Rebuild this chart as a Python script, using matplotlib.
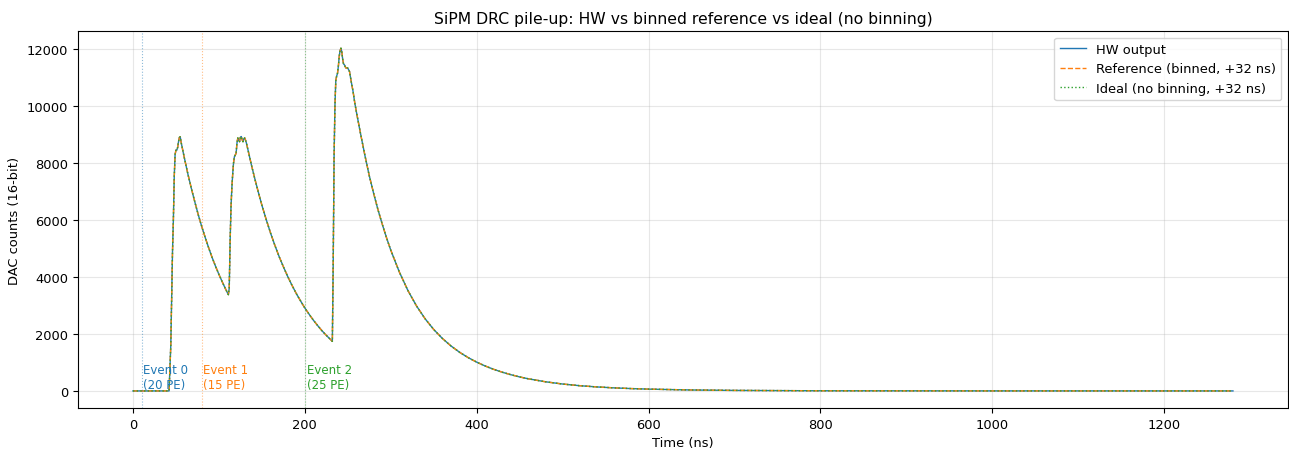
import numpy as np
import matplotlib
matplotlib.use("Agg")
import matplotlib.pyplot as plt

# Werte (Zeit in ns, DAC counts)
time_ns = [0, 20, 42, 43, 44, 45, 46, 47, 48, 49, 50, 51, 52, 53, 54, 55,
           56, 60, 64, 68, 72, 76, 80, 84, 88, 92, 96, 100, 104, 108, 111,
           112, 113, 114, 115, 116, 117, 118, 119, 120, 121, 122, 123, 124,
           125, 126, 127, 128, 129, 130, 131, 132, 134, 138, 142, 146, 150,
           155, 160, 165, 170, 175, 180, 185, 190, 195, 200, 205, 210, 215,
           220, 225, 230, 232, 233, 234, 235, 236, 237, 238, 239, 240, 241,
           242, 243, 244, 245, 246, 247, 248, 249, 250, 251, 252, 254, 256,
           258, 260, 265, 270, 275, 280, 285, 290, 295, 300, 310, 320, 330,
           340, 350, 360, 370, 380, 390, 400, 410, 420, 430, 440, 450, 460,
           480, 500, 520, 540, 560, 580, 600, 650, 700, 750, 800, 900, 1000,
           1100, 1200, 1280]
hw_counts = [0, 0, 0, 800, 1600, 3300, 4900, 6000, 7500, 8300, 8450, 8450,
             8550, 8750, 8900, 8920,
             8730, 8150, 7600, 7100, 6630, 6180, 5770, 5390, 5030, 4690,
             4380, 4090, 3820, 3560, 3380,
             3600, 5200, 6400, 7100, 7600, 8000, 8220, 8280, 8340, 8700,
             8880, 8800, 8750, 8900, 8930, 8820, 8750, 8850, 8880, 8800,
             8700, 8440, 7910, 7420, 6960, 6520, 6020, 5550, 5120, 4720,
             4360, 4020, 3710, 3420, 3160, 2910, 2690, 2480, 2290, 2110,
             1950, 1800, 1740, 4500, 8200, 10000, 10900, 11050, 11150,
             11400, 11750, 11950, 12030, 11900, 11650, 11480, 11450, 11380,
             11330, 11340, 11330, 11270, 11210, 10850, 10530, 10130, 9790,
             9000, 8250, 7550, 6940, 6370, 5860, 5380, 4940, 4170, 3520,
             2980, 2530, 2155, 1843, 1580, 1358, 1170, 1010, 873, 755, 654,
             567, 491, 426, 321, 242, 183, 140, 107, 82, 63, 33, 18, 10, 5, 2,
             1, 0, 0, 0]
# Referenz und Ideal liegen im Bild deckungsgleich auf der HW-Kurve
ref_counts = hw_counts
ideal_counts = hw_counts

event_times = [10, 80, 200]
event_labels = ["Event 0\n(20 PE)", "Event 1\n(15 PE)", "Event 2\n(25 PE)"]

plt.rcParams["font.size"] = 9.4

# Plot vorbereiten
fig, ax = plt.subplots(figsize=(12.89, 4.52), dpi=100)
fig.subplots_adjust(left=0.0605, right=0.9992, top=0.929, bottom=0.095)

ax.plot(time_ns, hw_counts, color="C0", lw=1.0, label="HW output")
ax.plot(time_ns, ref_counts, color="C1", lw=1.0, ls="--", label="Reference (binned, +32 ns)")
ax.plot(time_ns, ideal_counts, color="C2", lw=1.0, ls=":", label="Ideal (no binning, +32 ns)")

for i, (t, lab) in enumerate(zip(event_times, event_labels)):
    ax.axvline(t, color=f"C{i}", ls=":", lw=0.8, alpha=0.5)
    ax.text(t + 2, 0, lab, color=f"C{i}", fontsize=8.5, va="bottom", ha="left")

ax.set_xlabel("Time (ns)")
ax.set_ylabel("DAC counts (16-bit)")
ax.set_title("SiPM DRC pile-up: HW vs binned reference vs ideal (no binning)", fontsize=11.25)
ax.grid(True, alpha=0.3)
ax.legend(loc="upper right")

fig.savefig("out.png", dpi=100)
